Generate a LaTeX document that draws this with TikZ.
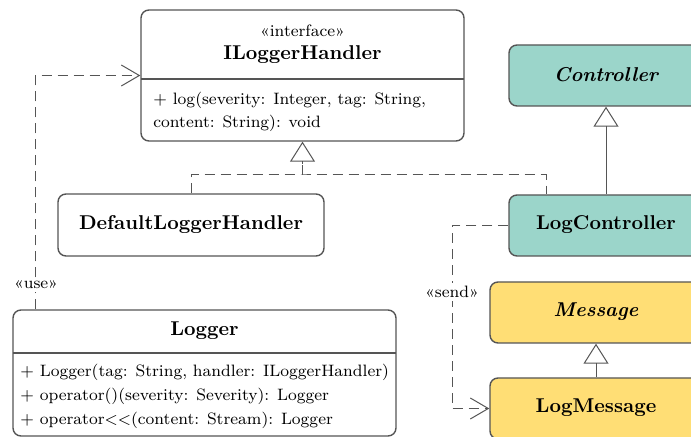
\documentclass[tikz,border=0pt]{standalone}
\usetikzlibrary{arrows.meta}
\definecolor{ctrlfill}{HTML}{9BD5CA}
\definecolor{msgfill}{HTML}{FFDE75}
\definecolor{edgegray}{HTML}{555555}
\newcommand{\memberfont}{\fontsize{8.25}{10}\selectfont}

\begin{document}
\begin{tikzpicture}[x=0.5pt,y=-0.5pt,
  umlbox/.style={draw=edgegray, line width=0.7pt, rounded corners=4pt,
    inner sep=0pt, anchor=center},
  ctrlbox/.style={umlbox, fill=ctrlfill},
  msgbox/.style={umlbox, fill=msgfill},
  cname/.style={font=\bfseries},
  aname/.style={font=\bfseries\itshape},
  member/.style={anchor=base west, inner sep=0pt, font=\memberfont},
  smalltext/.style={font=\memberfont},
  divider/.style={draw=edgegray, line width=0.7pt},
  conn/.style={draw=edgegray, line width=0.5pt},
  dep/.style={conn, dash pattern=on 5pt off 3pt,
    -{Straight Barb[length=9pt,width=10.5pt]}},
  realize/.style={conn, dash pattern=on 5pt off 3pt},
  gen/.style={conn, -{Triangle[open,length=10pt,width=12.5pt]}},
  stereo/.style={smalltext, fill=white, inner sep=1.5pt}
]
\useasboundingbox (0,0) rectangle (691,437);
\clip (0,0) rectangle (691,437);

% interface ILoggerHandler
\node[umlbox, minimum width=161.5pt, minimum height=65.5pt] (ilh) at (302.5,75.5) {};
\node[smalltext] (ilhstereo) at (302.5,31) {«interface»};
\node[cname] (ilhname) at (302.5,55) {ILoggerHandler};
\draw[divider] (141,79) -- (464,79);
\node[member] (ilhop1) at (153,105) {+ log(severity: Integer, tag: String,};
\node[member] (ilhop2) at (153,128) {content: String): void};

% DefaultLoggerHandler
\node[umlbox, minimum width=133pt, minimum height=31pt] (dlh) at (191,225) {};
\node[cname] (dlhname) at (191,225) {DefaultLoggerHandler};

% Controller hierarchy
\node[ctrlbox, minimum width=97pt, minimum height=30.5pt] (ctrl) at (606,75.5) {};
\node[aname] (ctrlname) at (606,75) {Controller};
\node[ctrlbox, minimum width=97pt, minimum height=30.5pt] (lc) at (606,225.5) {};
\node[cname] (lcname) at (606,225) {LogController};

% Message hierarchy
\node[msgbox, minimum width=106pt, minimum height=30.5pt] (msg) at (596,312.5) {};
\node[aname] (msgname) at (596,312) {Message};
\node[msgbox, minimum width=106pt, minimum height=30.5pt] (lm) at (596,408.5) {};
\node[cname] (lmname) at (596,408) {LogMessage};

% Logger
\node[umlbox, minimum width=191.5pt, minimum height=63pt] (logger) at (204.5,373) {};
\node[cname] (loggername) at (204.5,331) {Logger};
\draw[divider] (13,353) -- (396,353);
\node[member] (logop1) at (20,377) {+ Logger(tag: String, handler: ILoggerHandler)};
\node[member] (logop2) at (20,401) {+ operator()(severity: Severity): Logger};
\node[member] (logop3) at (20,425) {+ operator{$<$}{$<$}(content: Stream): Logger};

% realizations of ILoggerHandler
\coordinate (rjoin) at (302.5,175);
\draw[realize] (dlh.north) |- (rjoin) -| ([xshift=-30pt]lc.north);
\draw[realize] (rjoin) -- (302.5,164);
\draw[gen] (302.5,164) -- (ilh.south);

% generalizations
\draw[gen] (lc.north) -- (ctrl.south);
\draw[gen] (lm.north) -- (msg.south);

% Logger uses ILoggerHandler
\draw[dep] ([xshift=11.5pt]logger.north west) |- (ilh.west);
\node[stereo] (uselbl) at (36,285) {«use»};

% LogController sends LogMessage
\coordinate (sendbend) at (452,408.5);
\draw[dep] (lc.west) -| (sendbend) -- (lm.west);
\node[stereo] (sendlbl) at (452,292) {«send»};
\end{tikzpicture}
\end{document}
